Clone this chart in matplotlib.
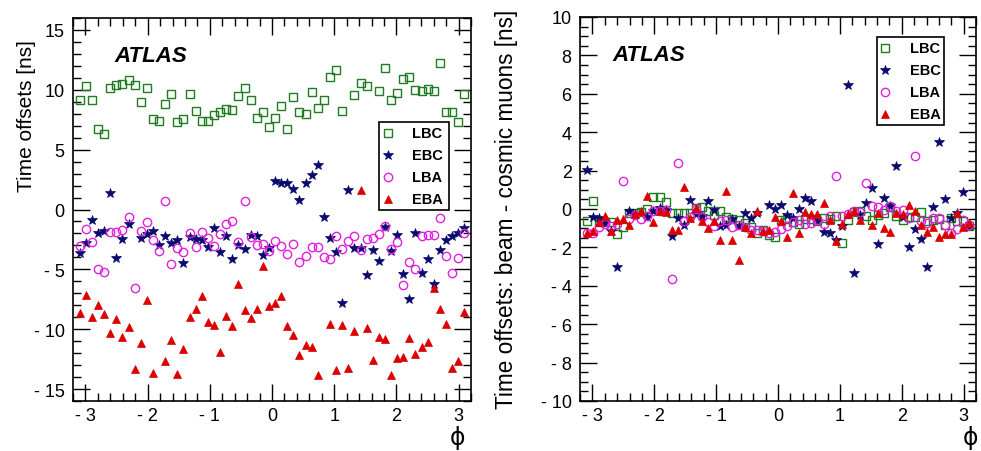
import numpy as np
import matplotlib
matplotlib.use('Agg')
import matplotlib.pyplot as plt
from matplotlib.ticker import MultipleLocator, FuncFormatter
from matplotlib.patches import Rectangle

plt.rcParams['font.family'] = ['Liberation Sans', 'DejaVu Sans']

nan = np.nan

# 64 modules per partition, points at module centres in phi
n_modules = 64
phi = -np.pi + (np.arange(n_modules) + 0.5) * 2 * np.pi / n_modules

labels = ['LBC', 'EBC', 'LBA', 'EBA']

# ---- left panel: time offsets [ns]
lbc_left = [9.17, 10.33, 9.14, 6.72, 6.33, 10.17, 10.39, 10.5, 10.8, 10.39, 8.94, 10.19, 7.56, 7.42, 8.8, 9.69,
            7.33, 7.58, 9.69, 8.22, 7.42, 7.42, 7.92, 8.17, 8.36, 8.28, 9.47, 10.11, 9.14, 7.64, 8.11, 6.92,
            7.66, 8.61, 6.72, 9.36, 8.11, 7.94, 9.78, 8.5, 9.17, 11.03, 11.69, 8.25, nan, 9.58, 10.58, 10.33,
            nan, 9.92, 11.83, 9.19, 9.75, 10.92, 11.08, 10.0, 9.86, 10.08, 9.94, 12.25, 8.11, 8.17, 7.31, 9.67]
ebc_left = [-3.64, -2.78, -0.89, -2.0, -1.81, 1.39, -4.06, -2.44, -1.24, nan, -2.36, -2.06, -1.81, -2.94, -2.25, -2.81,
            -2.58, -4.44, -2.33, -2.5, -2.58, -3.14, -1.55, -3.56, -2.19, -4.14, -3.0, -3.33, -2.11, -2.25, -3.78, -3.25,
            2.36, 2.25, 2.19, 1.72, 0.83, 2.19, 2.89, 3.75, -0.66, -2.36, -3.56, -7.78, 1.67, -3.22, -3.19, -5.5,
            -3.36, -4.31, -1.45, -3.5, -2.14, -5.36, -7.5, -1.94, -5.28, -4.17, -6.22, -3.42, -2.56, -2.25, -1.97, -1.53]
lba_left = [-3.08, -1.67, -2.72, -4.94, -5.25, -1.89, -1.89, -1.69, -0.64, -6.53, -1.78, -1.06, -2.58, -3.5, 0.75, -4.58,
            -3.19, -3.56, -1.97, -3.14, -1.89, -2.36, -3.03, -2.08, -1.25, -0.92, -2.72, 0.67, -2.33, -3.0, -2.89, -3.49,
            -2.67, -3.03, -3.75, -2.86, -4.39, -3.92, -3.17, -3.17, -4.0, -4.14, -2.25, -3.28, -2.67, -2.25, -3.36, -2.44,
            -2.36, -2.06, -1.39, -3.28, -2.72, -6.33, -4.39, -4.97, -2.25, -2.14, -2.14, -0.69, -3.86, -5.33, -4.06, -1.97]
eba_left = [-8.64, -7.17, -8.94, -8.0, -8.69, -10.36, -9.19, -10.64, -9.81, -13.33, -11.17, -7.56, -13.64, nan, -12.69, -10.94,
            -13.78, -11.64, -8.94, -8.31, -7.22, -9.39, -9.61, -11.92, -8.86, -9.72, -6.19, -8.36, -9.08, -8.28, -4.74, -8.06,
            -7.83, -7.25, -9.75, -10.47, -12.17, -11.31, -11.47, -13.86, nan, -9.58, -13.39, -9.69, -13.25, -10.19, 1.67, -9.92,
            -12.58, -10.67, -10.78, -13.83, -12.44, -12.31, -10.75, -12.06, -11.5, -11.03, -6.56, -8.28, -9.53, -13.28, -12.64, -8.53]

# ---- right panel: beam - cosmic muons [ns]
lbc_right = [-0.61, 0.42, -0.69, -0.69, -0.69, -1.3, -0.95, -0.23, -0.21, -0.17, 0.0, 0.61, 0.63, 0.38, -0.19, -0.21,
             -0.21, -0.21, 0.03, 0.12, -0.12, -0.3, -0.09, -0.4, -0.52, -0.56, -0.75, -0.95, -1.25, -1.09, -1.35, -1.48,
             -0.57, -0.52, -0.66, -0.78, -0.52, -0.52, -0.61, -0.49, -0.52, -0.38, -1.77, -0.56, -0.17, -0.09, -0.38, -0.56,
             -0.3, -0.22, 0.1, -0.35, -0.57, -0.43, -0.43, -0.17, -0.6, -0.56, -0.52, -0.82, -0.49, -0.64, -0.6, -0.87]
ebc_right = [2.03, -0.43, -0.48, -0.72, -1.17, -3.0, nan, -0.12, -0.26, nan, -0.4, -0.13, 0.05, -0.04, -1.42, -0.48,
             -0.82, 0.46, -0.26, -0.38, 0.4, -0.04, -0.87, -0.83, -0.54, -0.86, -0.19, -0.47, -0.21, nan, 0.19, -0.01,
             0.2, -0.31, -0.45, 0.01, 0.57, 0.43, -0.61, -1.18, -1.26, -1.6, -0.9, 6.48, -3.35, -0.33, 0.3, 1.1,
             -1.8, 0.57, 0.15, 2.26, -0.43, -2.0, -1.04, -1.56, -3.0, 0.09, 3.5, 0.51, -0.48, -0.21, 0.86, -0.87]
lba_right = [-1.25, -1.25, -0.95, -0.78, -0.9, -0.78, 1.48, -0.52, -0.31, -0.52, -0.35, -0.12, -0.09, -0.03, -3.65, 2.4,
             -0.61, -0.43, 0.0, -0.43, -0.66, -0.87, -0.61, -0.56, -0.95, -0.83, -0.95, -1.08, -1.08, -1.13, -1.25, -1.18,
             -1.06, -0.9, -0.69, -0.56, -0.78, -0.73, -0.56, -0.78, -0.38, 1.72, -0.38, -0.26, -0.09, -0.17, 1.33, 0.17,
             0.09, -0.05, 0.15, -0.12, -0.05, -0.47, 2.78, -0.64, -0.73, -0.49, -0.49, -0.82, -1.25, -1.04, -0.57, -0.82]
eba_right = [-1.25, -1.13, -0.69, -0.38, -1.16, -0.57, -0.52, -0.82, -0.26, -0.09, 0.66, -0.69, -0.09, -0.17, -1.08, -1.1,
             1.16, -0.49, 0.03, -0.61, -0.99, -0.61, -1.6, 0.95, -1.6, -2.66, -0.95, -1.25, -0.09, -1.13, -1.08, -0.43,
             -0.61, -1.48, 0.85, -1.26, -0.17, -0.26, -0.26, 0.3, -0.57, -1.69, -0.8, -0.26, -0.09, -0.56, nan, -0.84,
             -0.21, -0.99, -1.18, -0.22, -0.26, 0.21, -0.09, -0.84, -1.22, -0.92, -1.46, -1.3, -1.28, -0.19, -0.92, -0.74]

styles = {
    'LBC': dict(marker='s', ms=5.8, mfc='none', mec='#1e7d1e', mew=1.0),
    'EBC': dict(marker='*', ms=7.8, mfc='#0a0a6e', mec='#0a0a6e', mew=0.5),
    'LBA': dict(marker='o', ms=6.0, mfc='none', mec='#e020e0', mew=1.0),
    'EBA': dict(marker='^', ms=6.0, mfc='#dd0000', mec='#dd0000', mew=0.5),
}


def root_fmt(v, pos):
    # ROOT style labels: "- 3"
    if abs(v) < 1e-9:
        return '0'
    s = '%g' % abs(v)
    return ('- ' + s) if v < 0 else s


def style_axes(ax, ylim, ymajor, yminor):
    ax.set_xlim(-3.2, 3.2)
    ax.set_ylim(*ylim)
    ax.xaxis.set_major_locator(MultipleLocator(1))
    ax.xaxis.set_minor_locator(MultipleLocator(0.2))
    ax.yaxis.set_major_locator(MultipleLocator(ymajor))
    ax.yaxis.set_minor_locator(MultipleLocator(yminor))
    ax.xaxis.set_major_formatter(FuncFormatter(root_fmt))
    ax.yaxis.set_major_formatter(FuncFormatter(root_fmt))
    ax.tick_params(which='both', direction='in', top=True, right=True, width=1.0, labelsize=13)
    ax.tick_params(which='major', length=12)
    ax.tick_params(which='minor', length=6)
    ax.tick_params(axis='y', pad=6)
    ax.tick_params(axis='x', pad=4)
    for sp in ax.spines.values():
        sp.set_linewidth(1.2)


def draw_legend(ax, x0, y0, w, h, rows_y, mark_x, text_x):
    ax.add_patch(Rectangle((x0, y0), w, h, transform=ax.transAxes, facecolor='white',
                           edgecolor='black', linewidth=1.2, zorder=5, clip_on=False))
    for lab, yy in zip(labels, rows_y):
        ax.plot([mark_x], [yy], transform=ax.transAxes, linestyle='none', zorder=6,
                clip_on=False, **styles[lab])
        ax.text(text_x, yy, lab, transform=ax.transAxes, fontsize=10.5, fontweight='bold',
                va='center', ha='left', zorder=6)


fig = plt.figure(figsize=(9.81, 4.52), dpi=100)
ax1 = fig.add_axes([73 / 981, 50 / 452, 398 / 981, 383 / 452])
ax2 = fig.add_axes([580 / 981, 50 / 452, 396 / 981, 384 / 452])

for lab, vals in zip(labels, [lbc_left, ebc_left, lba_left, eba_left]):
    ax1.plot(phi, vals, linestyle='none', **styles[lab])
for lab, vals in zip(labels, [lbc_right, ebc_right, lba_right, eba_right]):
    ax2.plot(phi, vals, linestyle='none', **styles[lab])

style_axes(ax1, (-16, 16), 5, 1)
style_axes(ax2, (-10, 10), 2, 0.5)

for ax, xa in [(ax1, 0.103), (ax2, 0.081)]:
    ax.text(xa, 0.888, 'ATLAS', transform=ax.transAxes, fontsize=16, fontweight='bold',
            fontstyle='italic', va='baseline', ha='left')

draw_legend(ax1, 0.769, 0.499, 0.176, 0.229, [0.700, 0.642, 0.585, 0.527], 0.791, 0.852)
draw_legend(ax2, 0.750, 0.719, 0.169, 0.229, [0.919, 0.862, 0.805, 0.747], 0.770, 0.833)

# axis titles
fig.text(27 / 981, 1 - 40 / 452, 'Time offsets [ns]', rotation=90, ha='center', va='top', fontsize=15)
fig.text(506 / 981, 1 - 10 / 452, 'Time offsets: beam - cosmic muons [ns]', rotation=90,
         ha='center', va='top', fontsize=16.3)
ax1.text(0.967, -0.094, '\u03d5', transform=ax1.transAxes, ha='center', va='center', fontsize=17,
         family='DejaVu Sans')
ax2.text(0.985, -0.094, '\u03d5', transform=ax2.transAxes, ha='center', va='center', fontsize=17,
         family='DejaVu Sans')

fig.savefig('out.png', dpi=100, facecolor='white')
